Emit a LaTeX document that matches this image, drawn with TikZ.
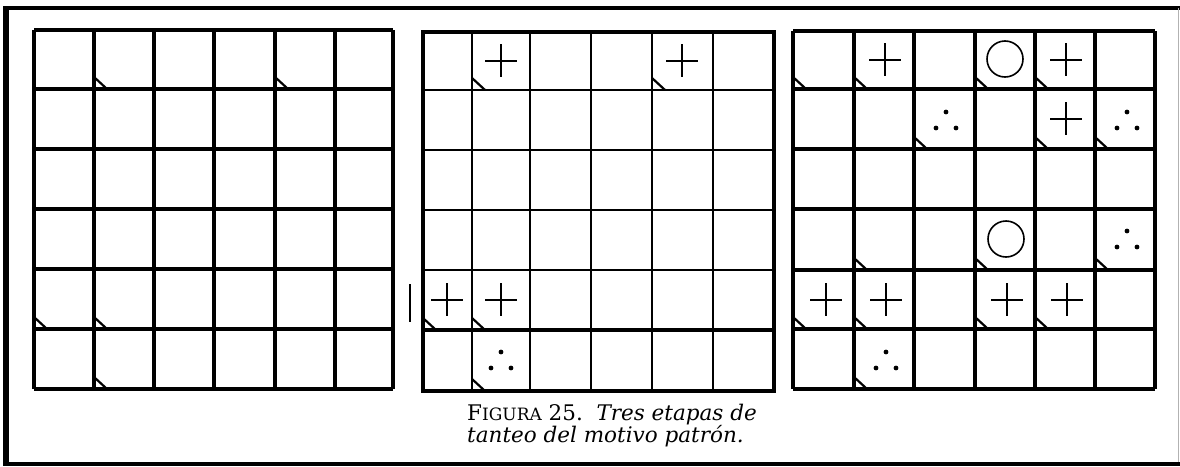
\documentclass[tikz,border=0pt]{standalone}
\usepackage{fontspec}
\setmainfont{Liberation Serif}
\newfontfamily\capfont{DejaVu Serif}
\usetikzlibrary{positioning}
\tikzset{
  gridline/.style={line width=3.1pt},
  thinline/.style={line width=2pt},
  frameline/.style={line width=4.5pt},
  captext/.style={anchor=base west, inner sep=0pt, font=\capfont\fontsize{21.5}{24}\selectfont},
  cutmark/.pic={\draw[line width=2.2pt] (0,-12) -- (13,0);},
  plusmark/.pic={\draw[line width=1.6pt] (-16,0) -- (16,0) (0,-17) -- (0,16);},
  ringmark/.pic={\draw[line width=1.6pt] (0,0) circle (18);},
  dotsmark/.pic={\fill (0,-8) circle (2.4) (-10,8) circle (2.4) (10,8) circle (2.4);},
}

\begin{document}
\begin{tikzpicture}[x=1pt, y=-1pt]
  \useasboundingbox (0,0) rectangle (1180,466);
  % Define the frame
  \draw[frameline] (3,8) -- (1180,8);
  \draw[line width=6pt] (6,6) -- (6,466);
  \draw[line width=4pt] (3,464) -- (1180,464);
  \draw[gray!60, line width=0.8pt] (1178,8) -- (1178,462);

  % First grid
  \foreach \x in {34,94,154,214,275,335,393}
    \draw[gridline] (\x,30) -- (\x,389);
  \foreach \y in {30,89,149,209,269,329,389}
    \draw[gridline] (34,\y) -- (393,\y);
  \foreach \x/\y in {94/89, 275/89, 34/329, 94/329, 94/389}
    \pic at (\x,\y) {cutmark};

  % Second grid
  \foreach \x in {472,530,591,652,713}
    \draw[thinline] (\x,32) -- (\x,391);
  \foreach \y in {90,150,210,270}
    \draw[thinline] (423,\y) -- (774,\y);
  \draw[gridline] (423,330) -- (774,330);
  \draw[gridline] (423,32) rectangle (774,391);
  \foreach \x/\y in {472/90, 652/90, 423/330, 472/330, 472/391}
    \pic at (\x,\y) {cutmark};
  \foreach \x/\y in {501/61, 682/61, 447/300, 501/300}
    \pic at (\x,\y) {plusmark};
  \pic at (501,360) {dotsmark};
  \draw[line width=1.5pt] (410,284) -- (410,322); % stray mark

  % Third grid
  \foreach \x in {793,854,914,975,1035,1095,1155}
    \draw[gridline] (\x,31) -- (\x,389);
  \foreach \y in {31,89,149,209,270,329,389}
    \draw[gridline] (793,\y) -- (1155,\y);
  \foreach \x/\y in {793/89, 854/89, 975/89, 1035/89, 914/149, 1035/149, 1095/149,
                     854/270, 975/270, 1095/270, 793/329, 854/329, 975/329, 1035/329, 854/389}
    \pic at (\x,\y) {cutmark};
  \foreach \x/\y in {885/60, 1066/60, 1066/119, 826/300, 886/300, 1007/300, 1067/300}
    \pic at (\x,\y) {plusmark};
  \foreach \x/\y in {1005/59, 1006/239}
    \pic at (\x,\y) {ringmark};
  \foreach \x/\y in {946/120, 1127/120, 1127/239, 886/360}
    \pic at (\x,\y) {dotsmark};

  % Caption
  \node[captext] (capA) at (467,420)
    {F{\fontsize{17}{20}\selectfont IGURA} 25.\ \ \textit{Tres etapas de}};
  \node[captext] (capB) at (467,442)
    {\itshape tanteo del motivo patrón.};
\end{tikzpicture}
\end{document}
